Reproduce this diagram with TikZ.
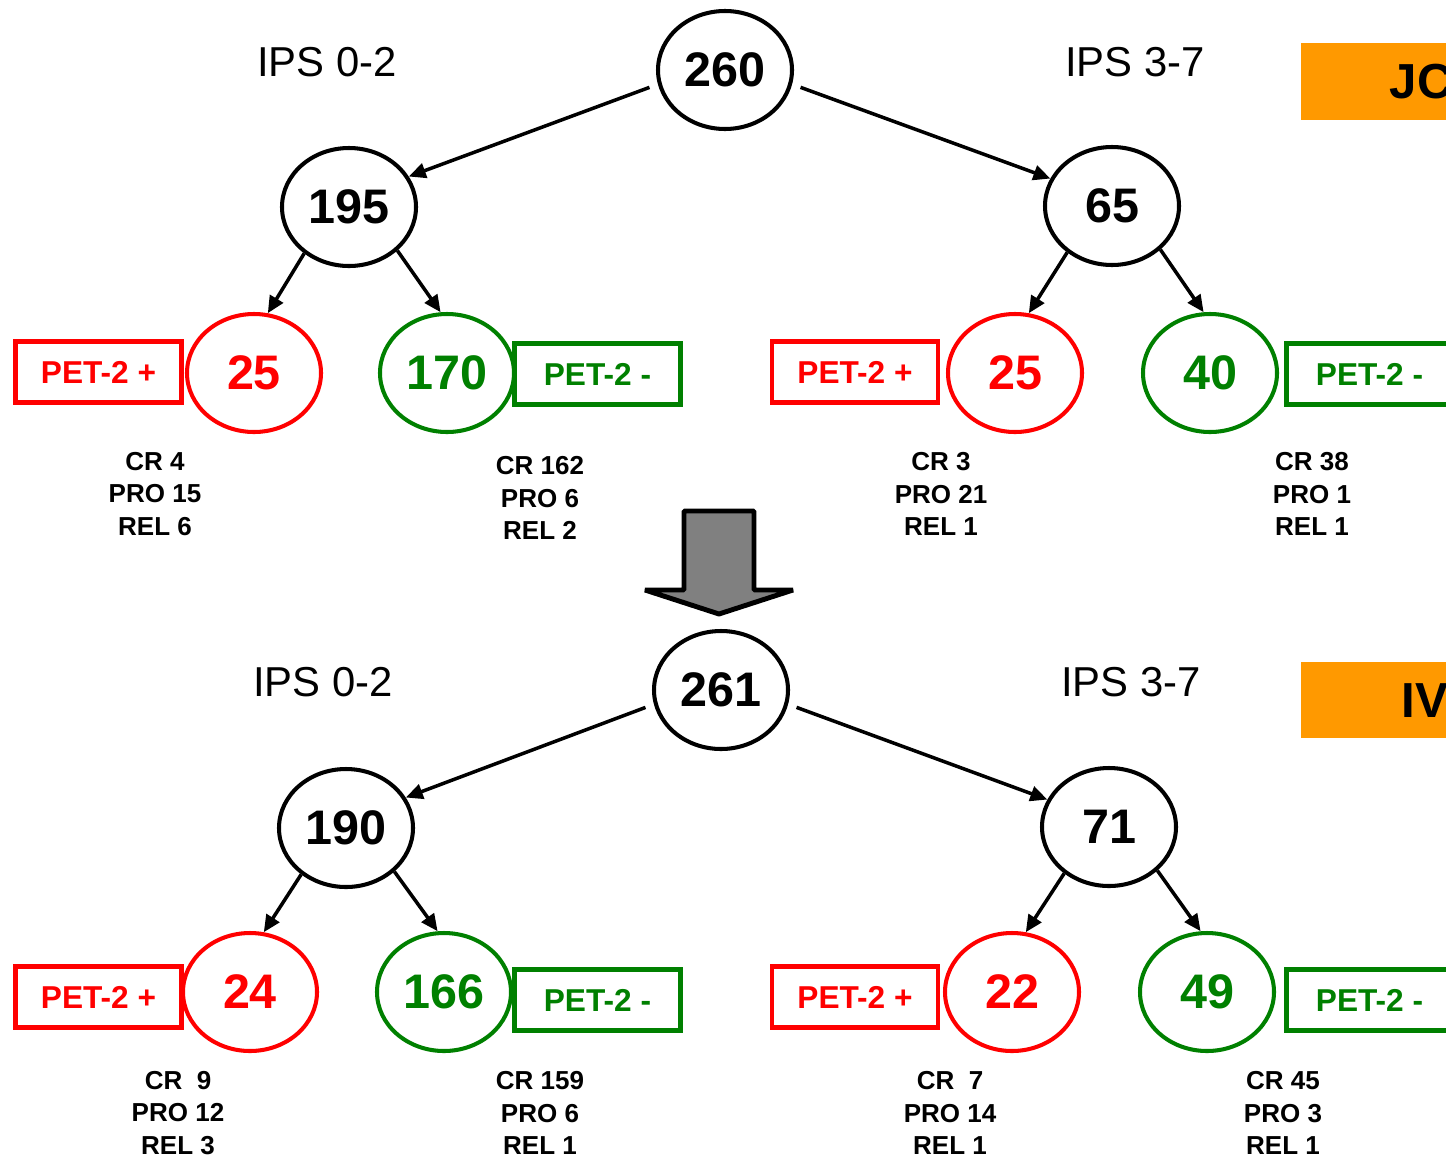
\documentclass[tikz,border=0pt]{standalone}
\usepackage{fontspec}
\setmainfont{Liberation Sans}
\usepackage{tikz}
\usetikzlibrary{positioning,shapes.geometric,arrows.meta}

\definecolor{petred}{RGB}{255,0,0}
\definecolor{petgreen}{RGB}{0,128,0}
\definecolor{boxorange}{RGB}{255,153,0}
\definecolor{bigarrow}{RGB}{128,128,128}

\begin{document}
\begin{tikzpicture}[
	ellip/.style = {ellipse, draw, line width=1.15pt, minimum width=1.34cm, minimum height=1.18cm, inner sep=0pt,
		font=\fontsize{13.8}{15}\selectfont\bfseries},
	redellip/.style = {ellip, draw=petred, text=petred},
	greenellip/.style = {ellip, draw=petgreen, text=petgreen},
	petbox/.style = {rectangle, draw, line width=1.3pt, minimum width=1.66cm, minimum height=0.61cm, inner sep=0pt,
		font=\fontsize{9}{10}\selectfont\bfseries},
	redbox/.style = {petbox, draw=petred, text=petred},
	greenbox/.style = {petbox, draw=petgreen, text=petgreen},
	stat/.style = {align=center, inner sep=0pt, font=\fontsize{7.4}{9.2}\selectfont\bfseries},
	ips/.style = {inner sep=0pt, font=\fontsize{11.9}{13}\selectfont},
	tag/.style = {anchor=west, inner sep=0pt, font=\fontsize{14}{15}\selectfont\bfseries},
	conn/.style = {line width=1pt, -{Triangle[length=1.7mm, width=1.5mm]}},
]
	\clip (0,0) rectangle (14.46,-11.57);

	% ---- JC ----
	\fill[boxorange] (13.01,-0.43) rectangle (14.6,-1.20);
	\node[tag] (jc) at (13.89,-0.82) {JC};
	\node[ips] (tips1) at (3.27,-0.62) {IPS 0-2};
	\node[ips] (tips2) at (11.35,-0.62) {IPS 3-7};

	\node[ellip] (t260) at (7.25,-0.70) {260};
	\node[ellip] (t195) at (3.49,-2.07) {195};
	\node[ellip] (t65)  at (11.12,-2.06) {65};
	\node[redellip]   (t25a) at (2.54,-3.73) {25};
	\node[greenellip] (t170) at (4.47,-3.73) {170};
	\node[redellip]   (t25b) at (10.15,-3.73) {25};
	\node[greenellip] (t40)  at (12.10,-3.73) {40};

	\node[redbox]   (tpa) at (0.985,-3.72) {PET-2 +};
	\node[greenbox] (tma) at (5.975,-3.74) {PET-2 -};
	\node[redbox]   (tpb) at (8.55,-3.72) {PET-2 +};
	\node[greenbox] (tmb) at (13.695,-3.74) {PET-2 -};

	\node[stat] (ts1) at (1.55,-4.94) {CR 4\\PRO 15\\REL 6};
	\node[stat] (ts2) at (5.40,-4.98) {CR 162\\PRO 6\\REL 2};
	\node[stat] (ts3) at (9.41,-4.94) {CR 3\\PRO 21\\REL 1};
	\node[stat] (ts4) at (13.12,-4.94) {CR 38\\PRO 1\\REL 1};

	\draw[conn, shorten <=0.09cm] (t260.192) -- (t195.27);
	\draw[conn, shorten <=0.09cm] (t260.348) -- (t65.156);
	\draw[conn] (t195.226) -- (t25a.77);
	\draw[conn] (t195.318) -- (t170.96);
	\draw[conn] (t65.226) -- (t25b.77);
	\draw[conn] (t65.318) -- (t40.96);

	% ---- down arrow ----
	\draw[line width=1.4pt, fill=bigarrow, line join=bevel]
		(6.84,-5.11) -- (7.54,-5.11) -- (7.54,-5.90) -- (7.93,-5.90) -- (7.19,-6.14)
		-- (6.45,-5.90) -- (6.84,-5.90) -- cycle;

	% ---- IV ----
	\fill[boxorange] (13.01,-6.62) rectangle (14.6,-7.38);
	\node[tag] (iv) at (14.01,-7.01) {IV};
	\node[ips] (bips1) at (3.23,-6.82) {IPS 0-2};
	\node[ips] (bips2) at (11.31,-6.82) {IPS 3-7};

	\node[ellip] (b261) at (7.21,-6.90) {261};
	\node[ellip] (b190) at (3.46,-8.28) {190};
	\node[ellip] (b71)  at (11.09,-8.27) {71};
	\node[redellip]   (b24)  at (2.50,-9.92) {24};
	\node[greenellip] (b166) at (4.44,-9.92) {166};
	\node[redellip]   (b22)  at (10.12,-9.92) {22};
	\node[greenellip] (b49)  at (12.07,-9.92) {49};

	\node[redbox]   (bpa) at (0.985,-9.97) {PET-2 +};
	\node[greenbox] (bma) at (5.975,-10.00) {PET-2 -};
	\node[redbox]   (bpb) at (8.55,-9.97) {PET-2 +};
	\node[greenbox] (bmb) at (13.695,-10.00) {PET-2 -};

	\node[stat] (bs1) at (1.78,-11.13) {CR~~9\\PRO 12\\REL 3};
	\node[stat] (bs2) at (5.40,-11.13) {CR 159\\PRO 6\\REL 1};
	\node[stat] (bs3) at (9.50,-11.13) {CR~~7\\PRO 14\\REL 1};
	\node[stat] (bs4) at (12.83,-11.13) {CR 45\\PRO 3\\REL 1};

	\draw[conn, shorten <=0.09cm] (b261.192) -- (b190.27);
	\draw[conn, shorten <=0.09cm] (b261.348) -- (b71.156);
	\draw[conn] (b190.226) -- (b24.77);
	\draw[conn] (b190.318) -- (b166.96);
	\draw[conn] (b71.226) -- (b22.77);
	\draw[conn] (b71.318) -- (b49.96);
\end{tikzpicture}
\end{document}
